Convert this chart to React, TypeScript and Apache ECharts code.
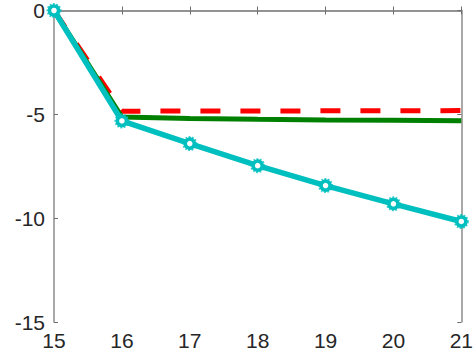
import React, { useEffect, useRef } from "react";
import * as echarts from "echarts";

const categories = [15, 16, 17, 18, 19, 20, 21];
const redValues = [0, -4.85, -4.84, -4.84, -4.83, -4.83, -4.82];
const greenValues = [0, -5.13, -5.2, -5.24, -5.27, -5.29, -5.31];
const cyanValues = [0, -5.32, -6.41, -7.47, -8.43, -9.31, -10.16];
const yTicks = [0, -5, -10, -15];

export default function App() {
  const ref = useRef<HTMLDivElement>(null);
  useEffect(() => {
    if (!ref.current) return;
    const chart = echarts.init(ref.current, null, { renderer: "svg" });
    const pairs = (vals: number[]) => categories.map((c, i) => [c, vals[i]]);
    const axisCommon = {
      axisLine: { show: true, lineStyle: { color: "#8c8c8c", width: 1.5 } },
      axisTick: { show: true, inside: true, length: 4, lineStyle: { color: "#6e6e6e" } },
      splitLine: { show: false },
    };
    chart.setOption({
      animation: false,
      backgroundColor: "#ffffff",
      grid: { left: 54, right: 13, top: 9, bottom: 31, containLabel: false },
      xAxis: [
        {
          type: "value",
          min: 15,
          max: 21,
          interval: 1,
          position: "bottom",
          ...axisCommon,
          axisLabel: {
            show: true,
            fontFamily: "Liberation Sans, Arial, sans-serif",
            fontSize: 21,
            color: "#262626",
            margin: 8,
          },
        },
        {
          type: "value",
          min: 15,
          max: 21,
          interval: 1,
          position: "top",
          ...axisCommon,
          axisLabel: { show: false },
        },
      ],
      yAxis: [
        {
          type: "value",
          min: -15,
          max: 0,
          interval: 5,
          position: "left",
          ...axisCommon,
          axisLabel: {
            show: true,
            fontFamily: "Liberation Sans, Arial, sans-serif",
            fontSize: 21,
            color: "#262626",
            margin: 9,
            formatter: (v: number) => (yTicks.includes(v) ? String(v) : ""),
          },
        },
        {
          type: "value",
          min: -15,
          max: 0,
          interval: 5,
          position: "right",
          ...axisCommon,
          axisLabel: { show: false },
        },
      ],
      series: [
        {
          type: "line",
          data: pairs(redValues),
          showSymbol: false,
          symbol: "none",
          lineStyle: { color: "#ff0000", width: 5, type: [20, 20] },
          z: 2,
        },
        {
          type: "line",
          data: pairs(greenValues),
          showSymbol: false,
          symbol: "none",
          lineStyle: { color: "#008000", width: 5 },
          z: 3,
        },
        {
          type: "line",
          data: pairs(cyanValues),
          symbol: "circle",
          symbolSize: 9,
          showSymbol: true,
          lineStyle: { color: "#00bfbf", width: 5.5 },
          itemStyle: {
            color: "#ffffff",
            borderColor: "#00bfbf",
            borderWidth: 3.5,
          },
          z: 4,
        },
        {
          type: "scatter",
          data: pairs(cyanValues),
          symbol: "circle",
          symbolSize: 12,
          itemStyle: {
            color: "rgba(0,0,0,0)",
            borderColor: "#00bfbf",
            borderWidth: 3,
            borderType: [1.6, 1.4],
          },
          z: 5,
        },
      ],
    });
    return () => chart.dispose();
  }, []);
  return (
    <div
      ref={ref}
      style={{ position: "absolute", left: 0, top: 0, width: 476, height: 353 }}
    />
  );
}
